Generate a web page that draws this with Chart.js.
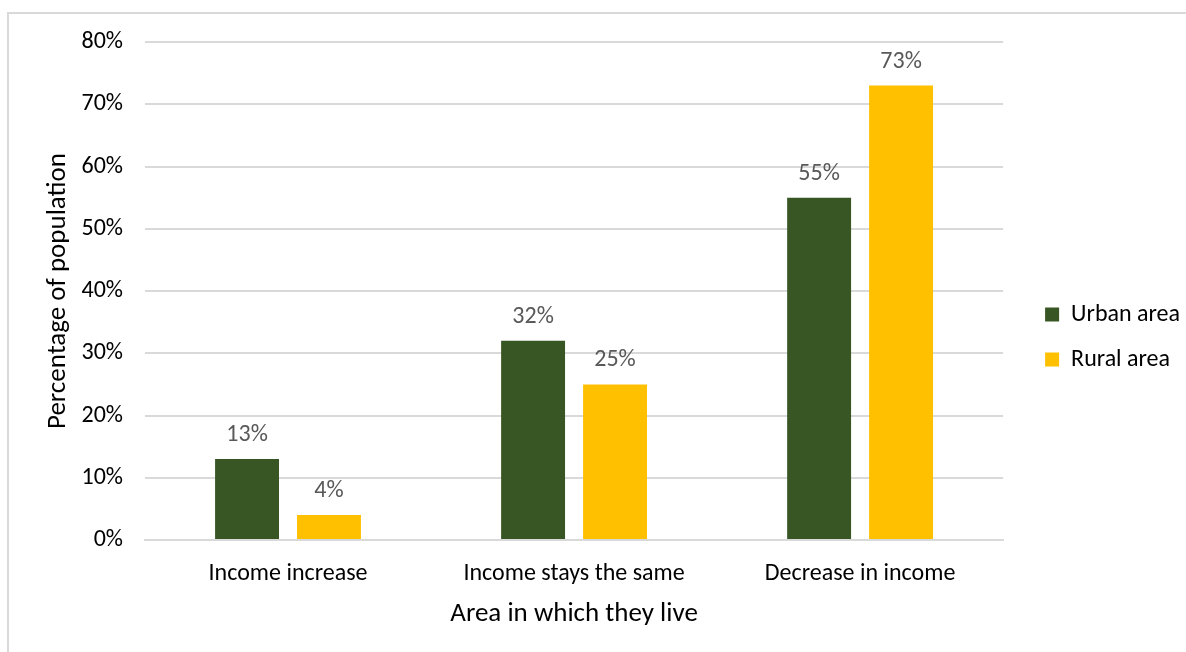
<!DOCTYPE html>
<html>
<head>
<meta charset="utf-8">
<script src="https://cdn.jsdelivr.net/npm/chart.js@4.4.1/dist/chart.umd.min.js"></script>
<style>
  body { margin: 0; background: #fff; overflow: hidden; }
  #frame {
    position: absolute; left: 7px; top: 12px;
    width: 1185px; height: 650px;
    border: 2px solid #d9d9d9; box-sizing: border-box;
  }
  #chart { position: absolute; left: 0; top: 0; display: block; }
</style>
</head>
<body>
<div id="frame"></div>
<canvas id="chart" width="1190" height="660"></canvas>
<script>
"use strict";

const categories = ["Income increase", "Income stays the same", "Decrease in income"];
const urbanValues = [13, 32, 55];
const ruralValues = [4, 25, 73];
const yTicks = [0, 10, 20, 30, 40, 50, 60, 70, 80];

const FONT = "Carlito, Calibri, Lato, 'Open Sans', sans-serif";

// draws the value above each bar, like the excel data labels
const barLabels = {
    id: "barLabels",
    afterDatasetsDraw: (chart) => {
        const ctx = chart.ctx;
        ctx.save();
        ctx.font = "24px " + FONT;
        ctx.fillStyle = "#595959";
        ctx.textAlign = "center";
        ctx.textBaseline = "bottom";
        chart.data.datasets.forEach((ds, i) => {
            const meta = chart.getDatasetMeta(i);
            meta.data.forEach((bar, j) => {
                ctx.fillText(ds.data[j] + "%", bar.x, bar.y - 12);
            });
        });
        ctx.restore();
    }
};

const ctx = document.getElementById("chart").getContext("2d");
new Chart(ctx, {
    type: "bar",
    data: {
        labels: categories,
        datasets: [
            { label: "Urban area", data: urbanValues, backgroundColor: "#375623" },
            { label: "Rural area", data: ruralValues, backgroundColor: "#ffc000" }
        ]
    },
    options: {
        responsive: false,
        animation: false,
        categoryPercentage: 0.573,
        barPercentage: 0.78,
        layout: { padding: { top: 42, right: 0, bottom: 28, left: 42 } },
        plugins: {
            legend: {
                position: "right",
                labels: {
                    boxWidth: 14,
                    boxHeight: 14,
                    padding: 21,
                    color: "#000",
                    font: { family: FONT, size: 24 }
                }
            },
            tooltip: { enabled: false }
        },
        scales: {
            x: {
                grid: { display: false, drawTicks: false },
                border: { color: "#d9d9d9", width: 2 },
                ticks: { color: "#000", font: { family: FONT, size: 24 }, padding: 20 },
                title: {
                    display: true,
                    text: "Area in which they live",
                    color: "#000",
                    font: { family: FONT, size: 27 },
                    padding: { top: 0, bottom: 2 }
                },
                afterFit: (axis) => { axis.height = 92; }
            },
            y: {
                min: 0,
                max: 80,
                afterBuildTicks: (axis) => { axis.ticks = yTicks.map(v => ({ value: v })); },
                grid: { color: "#d9d9d9", lineWidth: 2, drawTicks: false },
                border: { display: false },
                ticks: {
                    color: "#000",
                    font: { family: FONT, size: 24 },
                    padding: 22,
                    callback: (v) => v + "%"
                },
                title: {
                    display: true,
                    text: "Percentage of population",
                    color: "#000",
                    font: { family: FONT, size: 27 },
                    padding: { top: 0, bottom: 0 }
                },
                afterFit: (axis) => { axis.width = 103; }
            },
            // empty axis, only keeps a gap between the plot and the legend
            gap: {
                type: "linear",
                position: "right",
                grid: { display: false, drawTicks: false },
                border: { display: false },
                ticks: { display: false },
                afterFit: (axis) => { axis.width = 21; }
            }
        }
    },
    plugins: [barLabels]
});
</script>
</body>
</html>
